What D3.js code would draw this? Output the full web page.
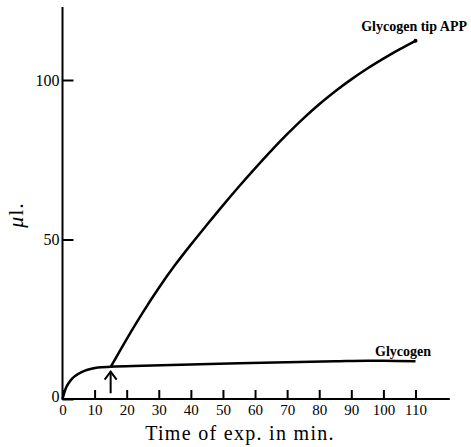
<!DOCTYPE html>
<html>
<head>
<meta charset="utf-8">
<script src="https://cdn.jsdelivr.net/npm/d3@7"></script>
<style>
  body { margin: 0; background: #fff; }
  svg { display: block; font-family: "Liberation Serif", "DejaVu Serif", serif; }
</style>
</head>
<body>
<script>
// values
var xTicks = [0, 10, 20, 30, 40, 50, 60, 70, 80, 90, 100, 110];
var yTicks = [0, 50, 100];

var glycogenTime = [0, 1, 2, 3, 5, 7, 9, 11, 15, 25, 40, 55, 70, 85, 95, 100, 110];
var glycogenVal  = [0, 3.3, 5.1, 6.4, 7.9, 8.9, 9.5, 9.9, 10.1, 10.4, 10.8, 11.2, 11.5, 11.8, 12.0, 12.0, 11.8];

var appTime = [15, 20, 25, 30, 35, 40, 45, 50, 55, 60, 65, 70, 75, 80, 85, 90, 95, 100, 105, 110];
var appVal  = [10, 18.8, 27.1, 34.8, 41.9, 48.4, 54.6, 60.7, 66.6, 72.3, 77.8, 83.0, 87.9, 92.4, 96.5, 100.2, 103.6, 106.7, 109.6, 112.3];

var arrowAt = 15;

var width = 471, height = 447;
var svg = d3.select('body').append('svg').attr('width', width).attr('height', height);

var x = d3.scaleLinear().domain([0, 110]).range([62.5, 415.5]);
var y = d3.scaleLinear().domain([0, 100]).range([399, 80]);

// axis lines run past the last tick
svg.append('line')
  .attr('x1', x(0)).attr('x2', x(120.7))
  .attr('y1', y(0)).attr('y2', y(0))
  .attr('stroke', '#000').attr('stroke-width', 2);
svg.append('line')
  .attr('x1', x(0)).attr('x2', x(0))
  .attr('y1', y(0) + 1).attr('y2', y(122.9))
  .attr('stroke', '#000').attr('stroke-width', 2);

var xAxis = d3.axisBottom(x).tickValues(xTicks).tickSizeInner(-9).tickSizeOuter(0).tickPadding(5);
var gx = svg.append('g').attr('transform', 'translate(0,' + y(0) + ')').call(xAxis);
gx.select('.domain').remove();
gx.selectAll('line').attr('stroke-width', 2);
gx.selectAll('text').attr('font-size', 15).attr('fill', '#000').style('font-family', '"Liberation Serif", serif');

var yAxis = d3.axisLeft(y).tickValues(yTicks).tickSizeInner(-11).tickSizeOuter(0).tickPadding(3)
  .tickFormat(function(d){ return d; });
var gy = svg.append('g').attr('transform', 'translate(' + x(0) + ',0)').call(yAxis);
gy.select('.domain').remove();
gy.selectAll('line').attr('stroke-width', 2);
gy.selectAll('text').attr('font-size', 16).attr('fill', '#000').style('font-family', '"Liberation Serif", serif');
gy.selectAll('.tick').filter(function(d){ return d === 0; }).select('text').attr('dy', '0.15em');

var line = d3.line()
  .x(function(d){ return x(d[0]); })
  .y(function(d){ return y(d[1]); })
  .curve(d3.curveMonotoneX);

svg.append('path')
  .datum(d3.zip(glycogenTime, glycogenVal))
  .attr('d', line)
  .attr('fill', 'none').attr('stroke', '#000').attr('stroke-width', 2.5);

svg.append('path')
  .datum(d3.zip(appTime, appVal))
  .attr('d', line)
  .attr('fill', 'none').attr('stroke', '#000').attr('stroke-width', 2.5);

// end dot on the APP curve
svg.append('circle')
  .attr('cx', x(appTime[appTime.length - 1]))
  .attr('cy', y(appVal[appVal.length - 1]))
  .attr('r', 2);

// arrow marking the addition
var ax = x(arrowAt), aTop = y(8.6), aBot = y(1.8);
svg.append('line')
  .attr('x1', ax).attr('x2', ax).attr('y1', aBot).attr('y2', aTop)
  .attr('stroke', '#000').attr('stroke-width', 2);
svg.append('path')
  .attr('d', 'M' + (ax - 6) + ',' + (aTop + 8) + 'L' + ax + ',' + aTop + 'L' + (ax + 6) + ',' + (aTop + 8))
  .attr('fill', 'none').attr('stroke', '#000').attr('stroke-width', 2);

// curve labels
svg.append('text')
  .attr('x', 467).attr('y', 31)
  .attr('text-anchor', 'end')
  .attr('font-size', 14).attr('font-weight', 'bold')
  .text('Glycogen tip APP');
svg.append('text')
  .attr('x', 431).attr('y', 356)
  .attr('text-anchor', 'end')
  .attr('font-size', 14).attr('font-weight', 'bold')
  .text('Glycogen');

// axis titles
svg.append('text')
  .attr('x', 240).attr('y', 440)
  .attr('text-anchor', 'middle')
  .attr('font-size', 20).attr('letter-spacing', 1.3)
  .text('Time of exp. in min.');
svg.append('text')
  .attr('transform', 'translate(23,215) rotate(-90)')
  .attr('text-anchor', 'middle')
  .attr('font-size', 22).attr('letter-spacing', 1)
  .html('<tspan font-style="italic">\u03bc</tspan>l.');
</script>
</body>
</html>
